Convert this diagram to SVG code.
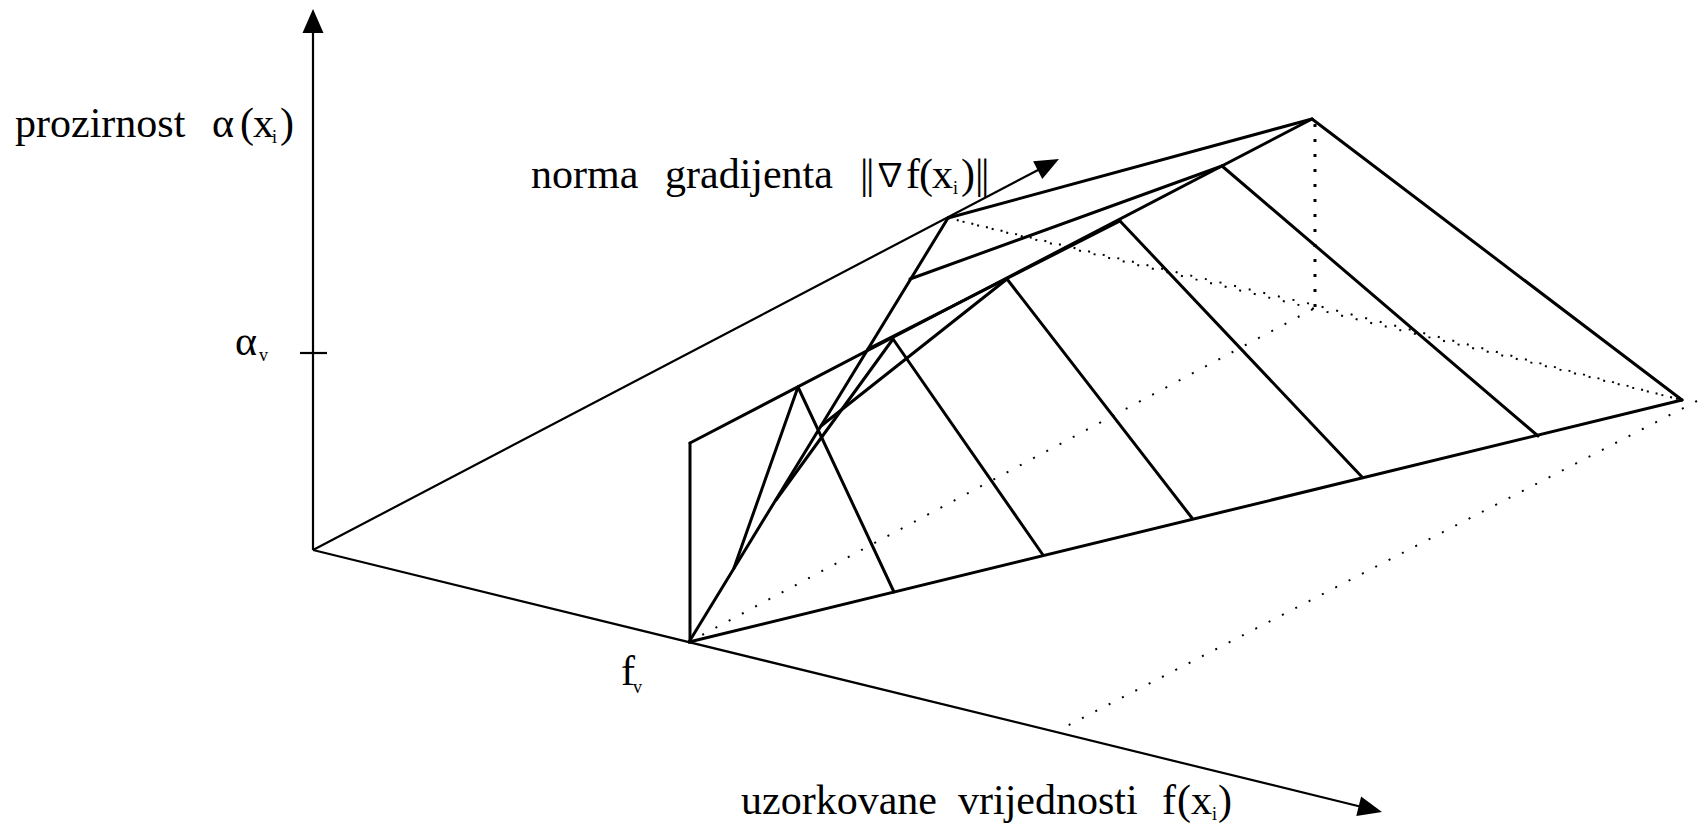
<svg xmlns="http://www.w3.org/2000/svg" width="1699" height="825" viewBox="0 0 1699 825">
<style>
.ax{stroke:#000;stroke-width:2.2;fill:none}
.sf{stroke:#000;stroke-width:3;fill:none;stroke-linejoin:round;stroke-linecap:round}
.dt{stroke:#000;stroke-width:2;fill:none;stroke-dasharray:2 13}
.dv{stroke:#000;stroke-width:3;fill:none;stroke-dasharray:3 12}
.ah{fill:#000;stroke:none}
text{font-family:"Liberation Serif","Times New Roman",serif;font-size:42px;fill:#000}
.sub{font-size:18px}
.nab{font-family:"Noto Sans CJK JP","DejaVu Serif",serif;font-size:32px}
</style>
<rect width="1699" height="825" fill="#fff"/>
<g id="axes">
  <line class="ax" x1="313" y1="550" x2="313" y2="30"/>
  <polygon class="ah" points="313,9 302.5,33 323.5,33"/>
  <line class="ax" x1="300" y1="353" x2="327" y2="353"/>
  <line class="ax" x1="313" y1="550" x2="1362" y2="807"/>
  <polygon class="ah" points="1382,812 1356.3,816 1361.1,796.6"/>
  <line class="ax" x1="313" y1="550" x2="1040" y2="169"/>
  <polygon class="ah" points="1059,159 1042.3,179 1033.1,161.2"/>
</g>
<g id="ground-dotted">
  <line class="dt" x1="689" y1="642" x2="1315" y2="308"/>
  <line class="dt" x1="948" y1="218" x2="1682" y2="400"/>
  <polyline class="dt" points="948,218 1315,305 1682,400" style="stroke-dashoffset:6"/>
  <line class="dt" x1="1697" y1="401" x2="1067" y2="726"/>
  <line class="dv" x1="1315" y1="124" x2="1315" y2="310"/>
</g>
<g id="surface">
  <line class="sf" x1="690" y1="642" x2="690" y2="443"/>
  <line class="sf" x1="690" y1="443" x2="1312" y2="119"/>
  <line class="sf" x1="689" y1="642" x2="948" y2="218"/>
  <line class="sf" x1="948" y1="218" x2="1312" y2="119"/>
  <line class="sf" x1="1312" y1="119" x2="1682" y2="400"/>
  <line class="sf" x1="689" y1="642" x2="1682" y2="400"/>
  <line class="sf" x1="734" y1="568" x2="798" y2="387"/>
  <line class="sf" x1="776" y1="500" x2="893" y2="339"/>
  <line class="sf" x1="821" y1="426" x2="1007" y2="279"/>
  <line class="sf" x1="868" y1="349" x2="1120" y2="221"/>
  <line class="sf" x1="910" y1="279" x2="1222" y2="166"/>
  <line class="sf" x1="798" y1="387" x2="894" y2="592"/>
  <line class="sf" x1="893" y1="339" x2="1043" y2="555"/>
  <line class="sf" x1="1007" y1="279" x2="1192" y2="518"/>
  <line class="sf" x1="1120" y1="221" x2="1362" y2="477"/>
  <line class="sf" x1="1222" y1="166" x2="1538" y2="436"/>
</g>
<g id="labels">
  <text x="15" y="137">prozirnost</text>
  <text x="212" y="137">α</text>
  <text x="240" y="137">(</text>
  <text x="253" y="137">x</text>
  <text class="sub" x="272" y="143">i</text>
  <text x="280" y="137">)</text>
  <text x="235" y="355">α</text>
  <text class="sub" x="259" y="361">v</text>
  <text x="621" y="685">f</text>
  <text class="sub" x="633" y="693">v</text>
  <text x="531" y="188">norma</text>
  <text x="665" y="188">gradijenta</text>
  <text x="860" y="188" letter-spacing="-2.5">||</text>
  <text class="nab" x="874" y="186">∇</text>
  <text x="906" y="188">f</text>
  <text x="919" y="188">(</text>
  <text x="932" y="188">x</text>
  <text class="sub" x="953" y="194">i</text>
  <text x="961" y="188">)</text>
  <text x="975" y="188" letter-spacing="-2.5">||</text>
  <text x="741" y="814">uzorkovane</text>
  <text x="958" y="814">vrijednosti</text>
  <text x="1162" y="814">f</text>
  <text x="1177" y="814">(</text>
  <text x="1191" y="814">x</text>
  <text class="sub" x="1212" y="820">i</text>
  <text x="1218" y="814">)</text>
</g>
</svg>
